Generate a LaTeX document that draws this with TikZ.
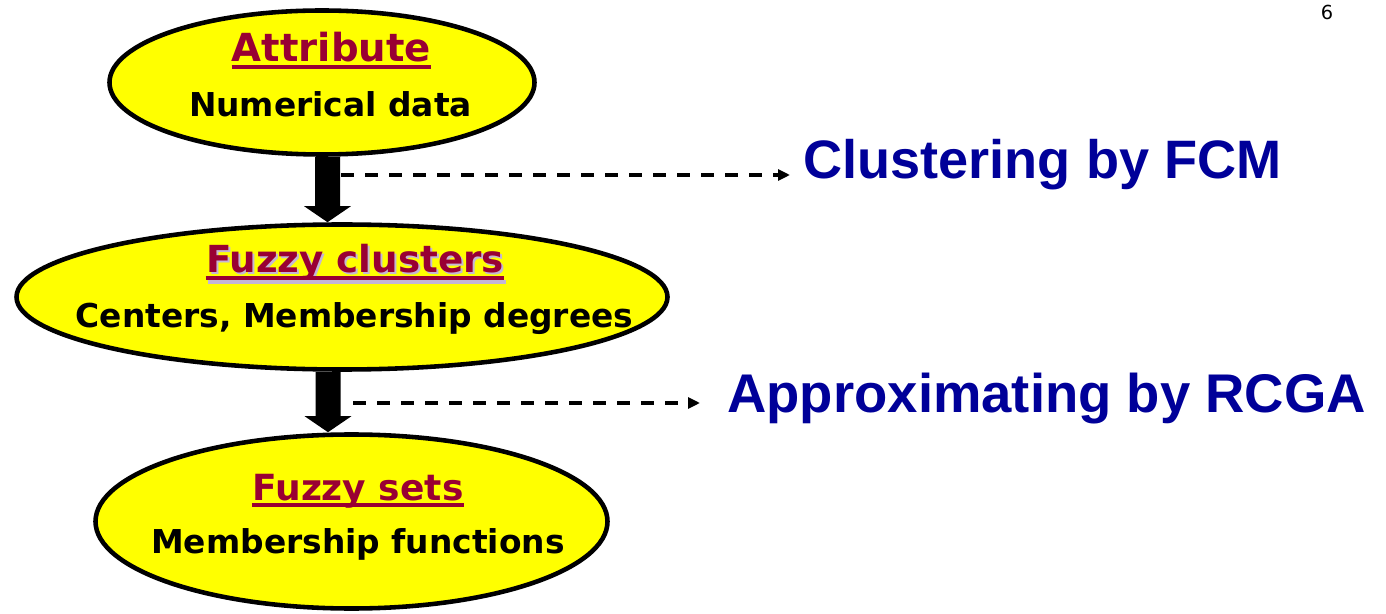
\documentclass[tikz,border=0pt]{standalone}
\usepackage{fontspec}
\usetikzlibrary{shapes.geometric,arrows.meta}
\newfontfamily\ovalfont{DejaVu Sans}
\newfontfamily\labfont{Liberation Sans}
\definecolor{ovalyellow}{HTML}{FFFF00}
\definecolor{headred}{HTML}{990033}
\definecolor{stepblue}{HTML}{000099}
\definecolor{headshadow}{HTML}{C4B6D6}
\begin{document}
\begin{tikzpicture}
\tikzstyle{oval} = [ellipse, draw, line width=2.6pt, fill=ovalyellow, inner sep=0pt]
\tikzstyle{ovalhead} = [anchor=base, inner sep=0pt, text=headred, font=\ovalfont\bfseries]
\tikzstyle{ovaltext} = [anchor=base, inner sep=0pt, font=\ovalfont\bfseries\fontsize{18.7}{22}\selectfont]
\tikzstyle{uline} = [draw=headred, line width=2pt]
\tikzstyle{fatarrow} = [line width=0.5cm, -{Triangle[length=0.32cm,width=0.92cm]}]
\tikzstyle{dasharrow} = [line width=2pt, dash pattern=on 0.26cm off 0.22cm, -{Triangle[length=0.24cm,width=0.22cm]}]
\tikzstyle{steplabel} = [anchor=base west, inner sep=0pt, text=stepblue, font=\labfont\bfseries\fontsize{30.8}{36}\selectfont]
	\useasboundingbox (0,0) rectangle (27.72,-12.28);
	% the three stages
	\node[oval, minimum width=8.5cm, minimum height=2.88cm] (attr) at (6.44,-1.65) {};
	\node[oval, minimum width=13.02cm, minimum height=2.9cm] (clus) at (6.84,-5.94) {};
	\node[oval, minimum width=10.24cm, minimum height=3.48cm] (sets) at (7.03,-10.43) {};
	\node[ovalhead, font=\ovalfont\bfseries\fontsize{22}{26}\selectfont] (attrhd) at (6.63,-1.24) {Attribute};
	\node[ovaltext] (attrtxt) at (6.61,-2.34) {Numerical data};
	\node[ovalhead, text=headshadow, font=\ovalfont\bfseries\fontsize{21.2}{25}\selectfont] (clusshd) at (7.14,-5.50) {Fuzzy clusters};
	\node[ovalhead, font=\ovalfont\bfseries\fontsize{21.2}{25}\selectfont] (clushd) at (7.1,-5.46) {Fuzzy clusters};
	\node[ovaltext] (clustxt) at (7.09,-6.56) {Centers, Membership degrees};
	\node[ovalhead, font=\ovalfont\bfseries\fontsize{20.5}{24}\selectfont] (setshd) at (7.16,-10.0) {Fuzzy sets};
	\node[ovaltext] (setstxt) at (7.16,-11.06) {Membership functions};
	\draw[uline] ([yshift=-0.1cm]attrhd.base west) -- ([yshift=-0.1cm]attrhd.base east);
	\draw[uline, draw=headshadow] ([yshift=-0.14cm]clusshd.base west) -- ([yshift=-0.14cm]clusshd.base east);
	\draw[uline] ([yshift=-0.1cm]clushd.base west) -- ([yshift=-0.1cm]clushd.base east);
	\draw[uline] ([yshift=-0.1cm]setshd.base west) -- ([yshift=-0.1cm]setshd.base east);
	% methods
	\node[steplabel] (fcm) at (16.06,-3.58) {Clustering by FCM};
	\node[steplabel, font=\labfont\bfseries\fontsize{31}{36}\selectfont] (rcga) at (14.54,-8.24) {Approximating by RCGA};
	\coordinate (fcmfrom) at (6.82,-3.5);
	\coordinate (rcgafrom) at (7.06,-8.06);
	\draw[fatarrow] ([xshift=0.11cm]attr.south) -- ([xshift=-0.29cm]clus.north);
	\draw[fatarrow] ([xshift=-0.28cm]clus.south) -- ([xshift=-0.47cm]sets.north);
	\draw[dasharrow, shorten >=0.26cm] (fcmfrom) -- (fcmfrom -| fcm.west);
	\draw[dasharrow, shorten >=0.54cm] (rcgafrom) -- (rcgafrom -| rcga.west);
	\node[font=\ovalfont\fontsize{11}{13}\selectfont, inner sep=0pt] (pageno) at (26.54,-0.25) {6};
\end{tikzpicture}
\end{document}
